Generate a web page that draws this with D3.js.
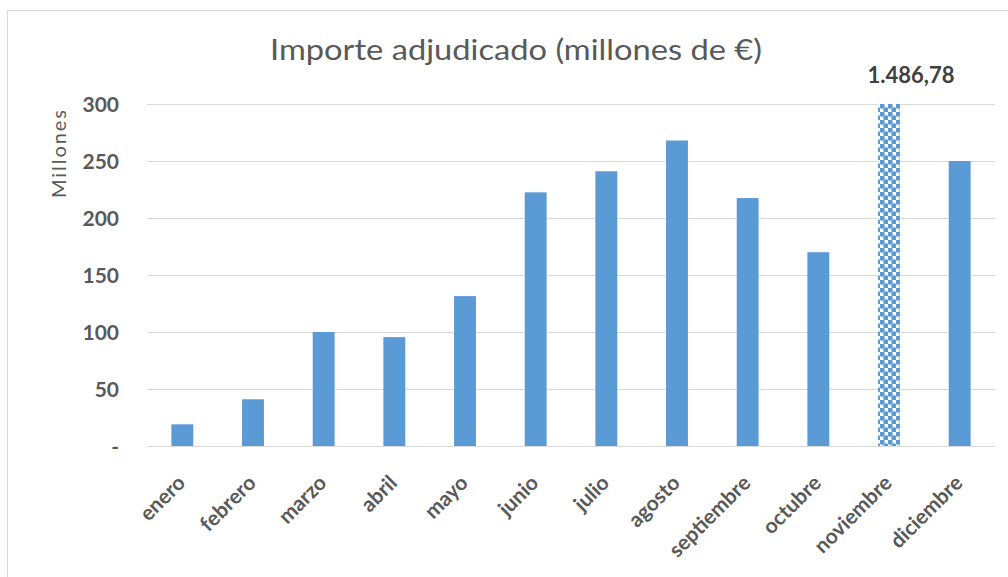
<!DOCTYPE html>
<html><head><meta charset="utf-8">
<script src="https://cdn.jsdelivr.net/npm/d3@7/dist/d3.min.js"></script>
<style>body{margin:0;background:#fff}svg{display:block}</style>
</head><body>
<svg id="c" width="1008" height="577"></svg>
<script>
const months = ["enero","febrero","marzo","abril","mayo","junio","julio","agosto","septiembre","octubre","noviembre","diciembre"];
const values = [19, 41, 100, 95.5, 131.5, 222.5, 241, 268, 217.5, 170, 1486.78, 250];
const yTicks = [0, 50, 100, 150, 200, 250, 300];
const title = "Importe adjudicado (millones de €)";
const yTitle = "Millones";
const outlierLabel = "1.486,78";

const svg = d3.select("#c");
const W = 1008, H = 577;
const m = {left: 147, right: 13, top: 104, bottom: 131};
const font = "Lato, 'Open Sans', sans-serif";

svg.append("rect").attr("x", 7.5).attr("y", 10.5).attr("width", W).attr("height", H)
  .attr("fill", "#fff").attr("stroke", "#d9d9d9").attr("stroke-width", 1);

const defs = svg.append("defs");
const pat = defs.append("pattern").attr("id", "chk").attr("patternUnits", "userSpaceOnUse")
  .attr("width", 8).attr("height", 8).attr("x", 0).attr("y", 0);
pat.append("rect").attr("width", 8).attr("height", 8).attr("fill", "#fff");
pat.append("circle").attr("cx", 2).attr("cy", 2).attr("r", 2.7).attr("fill", "#5b9bd5");
pat.append("circle").attr("cx", 6).attr("cy", 6).attr("r", 2.7).attr("fill", "#5b9bd5");

const x = d3.scaleBand().domain(months).range([m.left, W - m.right]).paddingInner(0.69).paddingOuter(0.345);
const y = d3.scaleLinear().domain([0, 300]).range([446, m.top]);

const g = svg.append("g");
g.selectAll("line.grid").data(yTicks).join("line")
  .attr("x1", m.left).attr("x2", W - m.right)
  .attr("y1", d => Math.round(y(d)) + 0.5).attr("y2", d => Math.round(y(d)) + 0.5)
  .attr("stroke", "#d9d9d9").attr("stroke-width", 1);

const yAxis = d3.axisLeft(y).tickValues(yTicks).tickSize(0).tickPadding(0)
  .tickFormat(d => d === 0 ? "-" : d3.format("d")(d));
const ya = svg.append("g").attr("transform", "translate(119,0)").call(yAxis);
ya.select(".domain").remove();
ya.selectAll("text").attr("font-family", font).attr("font-size", 21).attr("font-weight", "bold")
  .attr("fill", "#595959").attr("dy", "0.35em");

g.selectAll("rect.bar").data(months).join("rect")
  .attr("x", d => x(d)).attr("width", x.bandwidth())
  .attr("y", (d, i) => y(Math.min(values[i], 300)))
  .attr("height", (d, i) => y(0) - y(Math.min(values[i], 300)))
  .attr("fill", (d, i) => values[i] > 300 ? "url(#chk)" : "#5b9bd5");

months.forEach((mo, i) => {
  if (values[i] > 300) {
    svg.append("text").attr("x", x(mo) + x.bandwidth() / 2 + 22).attr("y", 83)
      .attr("text-anchor", "middle").attr("font-family", font).attr("font-size", 22)
      .attr("font-weight", "bold").attr("fill", "#404040").text(outlierLabel);
  }
});

const xAxis = d3.axisBottom(x).tickSize(0).tickPadding(0);
const xa = svg.append("g").attr("transform", "translate(0,446)").call(xAxis);
xa.select(".domain").remove();
xa.selectAll("text").attr("font-family", font).attr("font-size", 21).attr("font-weight", "bold")
  .attr("fill", "#595959").attr("text-anchor", "end")
  .attr("transform", "translate(-1,33) rotate(-45)").attr("dy", "0.35em");

svg.append("text").attr("x", 516).attr("y", 60).attr("text-anchor", "middle")
  .attr("font-family", font).attr("font-size", 28).attr("fill", "#595959")
  .attr("textLength", 492).attr("lengthAdjust", "spacingAndGlyphs").text(title);

svg.append("text").attr("transform", "translate(66,154) rotate(-90)").attr("text-anchor", "middle")
  .attr("font-family", font).attr("font-size", 20).attr("fill", "#595959")
  .attr("textLength", 88).attr("lengthAdjust", "spacing").text(yTitle);
</script>
</body></html>
